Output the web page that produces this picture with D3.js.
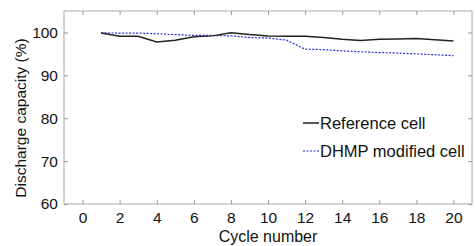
<!DOCTYPE html>
<html>
<head>
<meta charset="utf-8">
<script src="https://cdn.jsdelivr.net/npm/d3@7"></script>
<style>
  body { margin: 0; background: #fff; }
  text { font-family: "Liberation Sans", Arial, sans-serif; fill: #111; }
</style>
</head>
<body>
<div id="chart"></div>
<script>
// Data
const cycles = [1, 2, 3, 4, 5, 6, 7, 8, 9, 10, 11, 12, 13, 14, 15, 16, 17, 18, 19, 20];
const referenceCell = [99.85, 99.1, 99.1, 97.8, 98.2, 99.0, 99.2, 99.9, 99.5, 99.2, 99.1, 99.1, 98.8, 98.4, 98.1, 98.4, 98.5, 98.6, 98.3, 98.0];
const dhmpCell = [99.9, 99.85, 99.85, 99.7, 99.5, 99.3, 99.3, 99.2, 98.8, 98.7, 98.2, 96.1, 96.0, 95.7, 95.5, 95.3, 95.2, 95.0, 94.8, 94.6];
const xTicks = [0, 2, 4, 6, 8, 10, 12, 14, 16, 18, 20];
const yTicks = [60, 70, 80, 90, 100];
const seriesNames = ['Reference cell', 'DHMP modified cell'];

const W = 475, H = 246;
const m = { left: 64, right: 3, top: 11, bottom: 42 };

const svg = d3.select('#chart').append('svg')
  .attr('width', W).attr('height', H);

const x = d3.scaleLinear().domain([-1, 21]).range([m.left, W - m.right]);
const y = d3.scaleLinear().domain([60, 105]).range([H - m.bottom, m.top]);

// frame
svg.append('rect')
  .attr('x', x(-1)).attr('y', y(105))
  .attr('width', x(21) - x(-1)).attr('height', y(60) - y(105))
  .attr('fill', 'none').attr('stroke', '#aaa').attr('stroke-width', 1);

// axes (ticks pointing inward)
const tickStyle = g => {
  g.select('.domain').remove();
  g.selectAll('.tick line').attr('stroke', '#999');
  g.selectAll('.tick text').attr('font-size', 15.5).attr('fill', '#111')
    .attr('font-family', '"Liberation Sans", Arial, sans-serif');
};

svg.append('g')
  .attr('transform', `translate(0,${y(60)})`)
  .call(d3.axisBottom(x).tickValues(xTicks).tickSize(-4).tickPadding(8))
  .call(tickStyle);
svg.append('g')
  .attr('transform', `translate(0,${y(105)})`)
  .call(d3.axisTop(x).tickValues(xTicks).tickSize(-4).tickFormat(''))
  .call(tickStyle);
svg.append('g')
  .attr('transform', `translate(${x(-1)},0)`)
  .call(d3.axisLeft(y).tickValues(yTicks).tickSize(-4).tickPadding(6))
  .call(tickStyle);
svg.append('g')
  .attr('transform', `translate(${x(21)},0)`)
  .call(d3.axisRight(y).tickValues(yTicks).tickSize(-4).tickFormat(''))
  .call(tickStyle);

// lines
const line = d3.line().x((d, i) => x(cycles[i])).y(d => y(d));

svg.append('path')
  .datum(dhmpCell)
  .attr('fill', 'none')
  .attr('stroke', '#2a2ae0')
  .attr('stroke-width', 1.2)
  .attr('stroke-dasharray', '2,1.5')
  .attr('d', line);

svg.append('path')
  .datum(referenceCell)
  .attr('fill', 'none')
  .attr('stroke', '#222')
  .attr('stroke-width', 1.5)
  .attr('d', line);

// legend
const legend = svg.append('g').attr('transform', 'translate(303,123)');
const legendStyles = [
  { stroke: '#222', width: 1.5, dash: null },
  { stroke: '#2a2ae0', width: 1.2, dash: '2,1.5' }
];
seriesNames.forEach((name, i) => {
  const g = legend.append('g').attr('transform', `translate(0,${i * 28})`);
  g.append('line')
    .attr('x1', 0).attr('x2', 16).attr('y1', 0).attr('y2', 0)
    .attr('stroke', legendStyles[i].stroke)
    .attr('stroke-width', legendStyles[i].width)
    .attr('stroke-dasharray', legendStyles[i].dash);
  g.append('text')
    .attr('x', 17).attr('y', 6)
    .attr('font-size', 16.5)
    .text(name);
});

// axis titles
svg.append('text')
  .attr('x', (x(-1) + x(21)) / 2).attr('y', 242)
  .attr('text-anchor', 'middle')
  .attr('font-size', 16)
  .text('Cycle number');

svg.append('text')
  .attr('transform', 'translate(26,118) rotate(-90)')
  .attr('text-anchor', 'middle')
  .attr('font-size', 15.5)
  .text('Discharge capacity (%)');
</script>
</body>
</html>
